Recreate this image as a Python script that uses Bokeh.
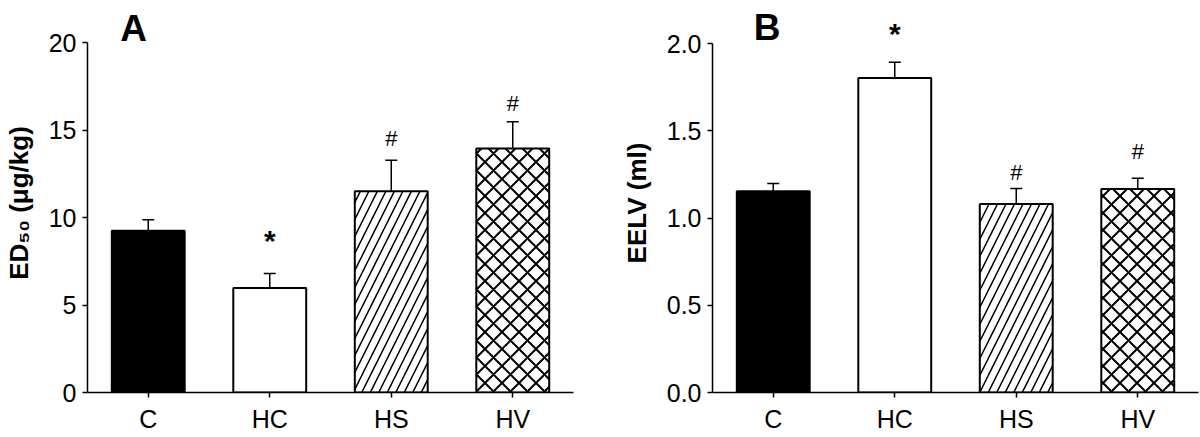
from bokeh.plotting import figure
from bokeh.models import FactorRange, Range1d, ColumnDataSource, Whisker, TeeHead, Label, CustomJSTickFormatter
from bokeh.layouts import row
from bokeh.core.properties import value
from bokeh.embed import file_html
from bokeh.resources import INLINE

groups = ["C", "HC", "HS", "HV"]

# Panel A: ED50 (ug/kg)
ed50_mean = [9.25, 5.97, 11.5, 13.95]
ed50_err = [0.62, 0.83, 1.77, 1.52]
ed50_marks = ["", "*", "#", "#"]
ed50_mark_y = [0, 8.7, 14.5, 16.5]

# Panel B: EELV (ml)
eelv_mean = [1.154, 1.803, 1.08, 1.166]
eelv_err = [0.044, 0.09, 0.089, 0.062]
eelv_marks = ["", "*", "#", "#"]
eelv_mark_y = [0, 2.055, 1.26, 1.38]

fills = ["black", "white", "white", "white"]
hatches = [" ", " ", "/", "x"]
hatch_weights = [1, 1, 1.5, 2.0]

FONT = "Liberation Sans"
FRAME_H = 379
FRAME_W = 486
TOP = 13
HEIGHT = FRAME_H + TOP + 42


def panel(vals, errs, marks, mark_y, ymax, ytop, yticks, ylabel, letter, letter_xy, width, left):
    p = figure(x_range=FactorRange(*groups), y_range=Range1d(0, ytop),
               width=width, height=HEIGHT, output_backend="svg", toolbar_location=None,
               min_border_left=left, min_border_right=width - left - FRAME_W,
               min_border_top=TOP, min_border_bottom=42, outline_line_color=None)
    p.frame_height = FRAME_H
    p.frame_width = FRAME_W
    src = ColumnDataSource(dict(g=groups, v=vals, up=[a + b for a, b in zip(vals, errs)],
                                fill=fills, hatch=hatches, hw=hatch_weights))
    p.add_layout(Whisker(base="g", lower="v", upper="up", source=src, dimension="height",
                         line_width=1.5, line_color="black",
                         upper_head=TeeHead(size=12, line_width=1.5, line_color="black"),
                         lower_head=None, level="underlay"))
    p.vbar(x="g", top="v", bottom=0, width=0.6, source=src, fill_color="fill",
           line_color="black", line_width=2, hatch_pattern="hatch", hatch_color="black",
           hatch_weight="hw", hatch_scale=17)
    msrc = ColumnDataSource(dict(g=groups, y=mark_y, t=marks,
                                 fs=["1px", "30px", "22px", "22px"],
                                 fst=["normal", "bold", "normal", "normal"]))
    p.text(x="g", y="y", text="t", source=msrc, text_align="center", text_baseline="middle",
           text_font=value(FONT), text_font_size="fs", text_font_style="fst", text_color="black")
    p.add_layout(Label(x=letter_xy[0], y=letter_xy[1], text=letter, text_font=FONT,
                       text_font_size="37px", text_font_style="bold", text_align="center",
                       text_baseline="middle", text_color="black"))

    p.xgrid.grid_line_color = None
    p.ygrid.grid_line_color = None
    for ax in (p.xaxis[0], p.yaxis[0]):
        ax.axis_line_width = 1.5
        ax.axis_line_color = "black"
        ax.major_tick_line_color = "black"
        ax.major_tick_line_width = 1.5
        ax.major_tick_out = 5
        ax.major_tick_in = 0
        ax.minor_tick_line_color = None
        ax.major_label_text_font = FONT
        ax.major_label_text_font_size = "25px"
        ax.major_label_text_color = "black"
    p.xaxis.major_label_standoff = 7
    p.yaxis.major_label_standoff = 6
    p.yaxis.bounds = (0, ymax)
    p.yaxis.ticker = yticks
    p.yaxis.axis_label = ylabel
    p.yaxis.axis_label_text_font = FONT
    p.yaxis.axis_label_text_font_size = "26px"
    p.yaxis.axis_label_text_font_style = "bold"
    p.yaxis.axis_label_text_color = "black"
    p.yaxis.axis_label_standoff = 12
    return p


pA = panel(ed50_mean, ed50_err, ed50_marks, ed50_mark_y, 20, FRAME_H / 17.5,
           [0, 5, 10, 15, 20], "ED\u2085\u2080 (\u03bcg/kg)", "A", (0.38, 20.8), 607, 76)
pB = panel(eelv_mean, eelv_err, eelv_marks, eelv_mark_y, 2, FRAME_H / 174.5,
           [0, 0.5, 1.0, 1.5, 2.0], "EELV (ml)", "B", (0.45, 2.09), 577, 90)
pB.yaxis.formatter = CustomJSTickFormatter(code="return tick.toFixed(1);")

layout = row(pA, pB, spacing=0)
open("out.html", "w").write(file_html(layout, INLINE))
